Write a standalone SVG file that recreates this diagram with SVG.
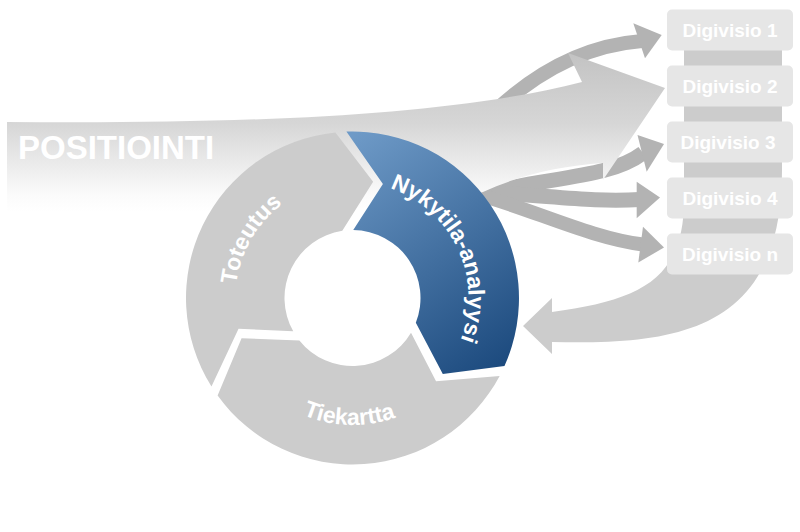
<svg xmlns="http://www.w3.org/2000/svg" width="800" height="532" viewBox="0 0 800 532">
<style>
.ring{fill:#cccccc}
.lbl{font-family:"Liberation Sans",Arial,sans-serif;font-weight:bold;fill:#ffffff}
.ringlbl{font-size:23px}
.boxlbl{font-size:19px;text-anchor:middle}
.shaft{fill:none;stroke:#b3b3b3}
.head{fill:#b3b3b3}
.box{fill:#e6e6e6}
.band{fill:#cccccc}
</style>
<defs>
<linearGradient id="posGrad" gradientUnits="userSpaceOnUse" x1="0" y1="50" x2="0" y2="212">
<stop offset="0" stop-color="#c2c2c2"/>
<stop offset="0.45" stop-color="#d6d6d6"/>
<stop offset="0.9" stop-color="#fbfbfb"/>
<stop offset="1" stop-color="#ffffff"/>
</linearGradient>
<linearGradient id="blueGrad" gradientUnits="userSpaceOnUse" x1="345" y1="140" x2="505" y2="370">
<stop offset="0" stop-color="#6e9ac7"/>
<stop offset="1" stop-color="#1b497d"/>
</linearGradient>
<path id="seg" d="M 346.38,131.61 A 166.5 166.5 0 0 1 504.47,366 L 442.8,373.96 L 415.83,322.78 A 68 68 0 0 0 353.25,230 L 382.9,183.97 Z"/>
<path id="arcTot" d="M 251.18,356.5 A 117 117 0 0 1 352.5,181"/>
<path id="arcNyk" d="M 342.39,182.44 A 116 116 0 0 1 434.52,380.02"/>
<path id="arcTie" d="M 240.9,358.6 A 127 127 0 0 0 460.8,364.4"/>
</defs>

<g id="connectors">
  <path class="band" d="M 684,25 L 782,25 L 782,170 C 782,330 680,345 552,342 L 552,354 L 523,326 L 552,298 L 552,312 C 640,300 684,280 684,200 Z"/>
  <path class="shaft" stroke-width="14" d="M 478,128 Q 553,48 642,41"/>
  <polygon class="head" points="661.7,35 633.3,23.3 645,58.3"/>
  <path class="shaft" stroke-width="15" d="M 470,196 C 555,176 610,178 643,153"/>
  <polygon class="head" points="664,144 637.5,135 646.7,171.7"/>
  <path class="shaft" stroke-width="15" d="M 470,192 C 540,194 590,203 640,199.5"/>
  <polygon class="head" points="660,197.5 636.7,181.7 636.7,218.3"/>
  <path class="shaft" stroke-width="14" d="M 470,192 C 530,208 590,238 643,244.5"/>
  <polygon class="head" points="664,247.5 643,226.7 638.3,262.5"/>
</g>

<g id="positiointi">
  <path fill="url(#posGrad)" d="M 7,122 C 250,124 450,116 582,82 L 568,53 L 665,88 L 603,180 L 603,163 C 560,166 520,175 483,192 C 430,210 300,212 7,212 Z"/>
  <text class="lbl" x="18" y="159" font-size="33">POSITIOINTI</text>
</g>

<g id="nykytila">
  <use href="#seg" fill="url(#blueGrad)"/>
  <text class="lbl ringlbl"><textPath href="#arcNyk" startOffset="50%" text-anchor="middle">Nykytila-analyysi</textPath></text>
</g>
<g id="tiekartta">
  <use href="#seg" class="ring" transform="rotate(120 352.5 298)"/>
  <text class="lbl ringlbl"><textPath href="#arcTie" startOffset="50%" text-anchor="middle">Tiekartta</textPath></text>
</g>
<g id="toteutus">
  <use href="#seg" class="ring" transform="rotate(240 352.5 298)"/>
  <text class="lbl ringlbl"><textPath href="#arcTot" startOffset="50%" text-anchor="middle">Toteutus</textPath></text>
</g>

<g id="digivisio1">
  <rect class="box" x="667" y="9.5" width="126" height="41" rx="5"/>
  <text class="lbl boxlbl" x="730" y="36.7">Digivisio 1</text>
</g>
<g id="digivisio2">
  <rect class="box" x="667" y="65.5" width="126" height="41" rx="5"/>
  <text class="lbl boxlbl" x="730" y="92.7">Digivisio 2</text>
</g>
<g id="digivisio3">
  <rect class="box" x="667" y="121.5" width="126" height="41" rx="5"/>
  <text class="lbl boxlbl" x="728" y="148.7">Digivisio 3</text>
</g>
<g id="digivisio4">
  <rect class="box" x="667" y="177.5" width="126" height="41" rx="5"/>
  <text class="lbl boxlbl" x="730" y="204.7">Digivisio 4</text>
</g>
<g id="digivision">
  <rect class="box" x="667" y="233.5" width="126" height="41" rx="5"/>
  <text class="lbl boxlbl" x="730" y="260.7">Digivisio n</text>
</g>
</svg>
